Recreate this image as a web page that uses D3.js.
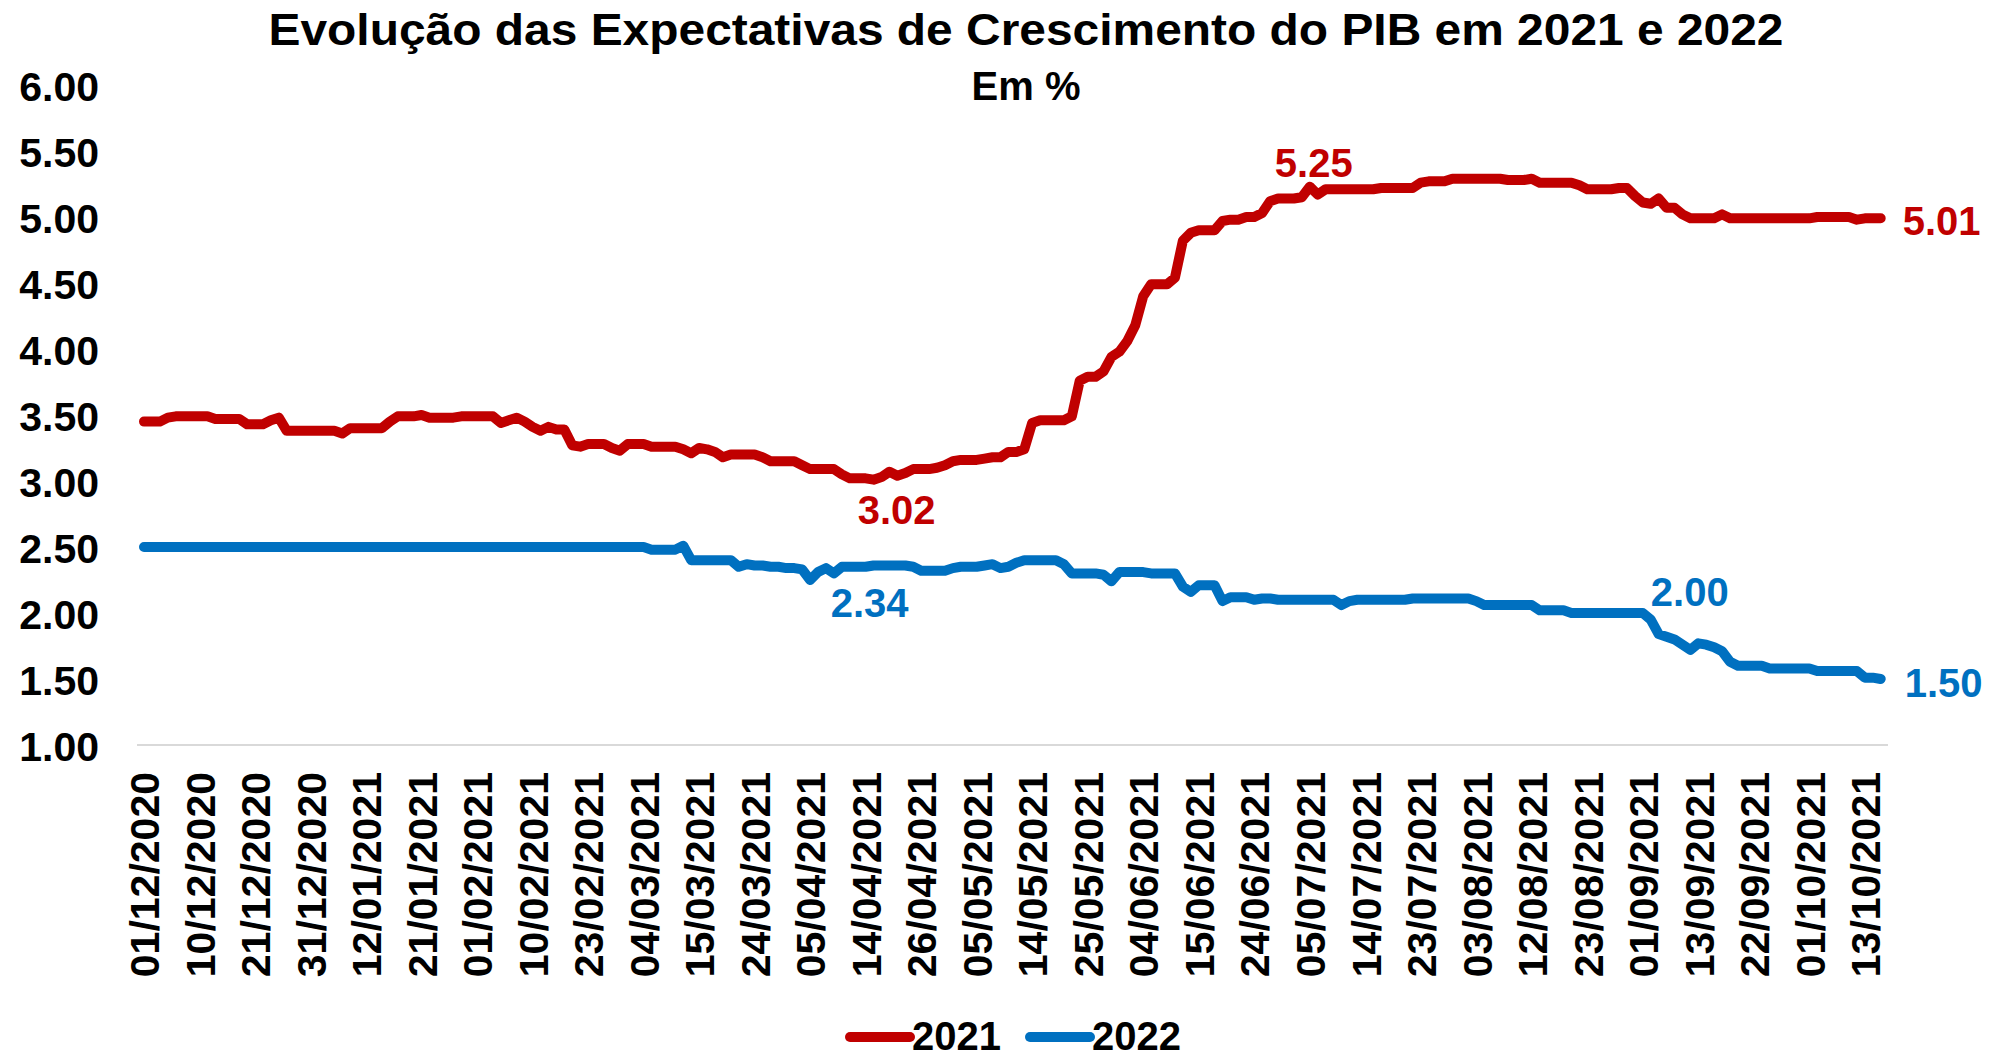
<!DOCTYPE html>
<html>
<head>
<meta charset="utf-8">
<script src="https://cdn.jsdelivr.net/npm/d3@7"></script>
<style>
  body { margin: 0; background: #fff; }
  #canvas { width: 1995px; height: 1058px; }
  text { font-family: "Liberation Sans", Arial, sans-serif; font-weight: bold; }
</style>
</head>
<body>
<div id="canvas"></div>
<script>
// business-day tick labels (every 7th observation)
const tickLabels = ["01/12/2020", "10/12/2020", "21/12/2020", "31/12/2020", "12/01/2021", "21/01/2021",
  "01/02/2021", "10/02/2021", "23/02/2021", "04/03/2021", "15/03/2021", "24/03/2021", "05/04/2021",
  "14/04/2021", "26/04/2021", "05/05/2021", "14/05/2021", "25/05/2021", "04/06/2021", "15/06/2021",
  "24/06/2021", "05/07/2021", "14/07/2021", "23/07/2021", "03/08/2021", "12/08/2021", "23/08/2021",
  "01/09/2021", "13/09/2021", "22/09/2021", "01/10/2021", "13/10/2021"];
const tickStep = 7;

const seriesNames = ["2021", "2022"];

// PIB 2021 expectations, one value per business day
const pib2021 = [
  3.45, 3.45, 3.45, 3.48, 3.49, 3.49, 3.49, 3.49, 3.49, 3.47,
  3.47, 3.47, 3.47, 3.43, 3.43, 3.43, 3.46, 3.48, 3.38, 3.38,
  3.38, 3.38, 3.38, 3.38, 3.38, 3.36, 3.40, 3.40, 3.40, 3.40,
  3.40, 3.45, 3.49, 3.49, 3.49, 3.50, 3.48, 3.48, 3.48, 3.48,
  3.49, 3.49, 3.49, 3.49, 3.49, 3.44, 3.46, 3.48, 3.45, 3.41,
  3.38, 3.41, 3.39, 3.39, 3.27, 3.26, 3.28, 3.28, 3.28, 3.25,
  3.23, 3.28, 3.28, 3.28, 3.26, 3.26, 3.26, 3.26, 3.24, 3.21,
  3.25, 3.24, 3.22, 3.18, 3.20, 3.20, 3.20, 3.20, 3.18, 3.15,
  3.15, 3.15, 3.15, 3.12, 3.09, 3.09, 3.09, 3.09, 3.05, 3.02,
  3.02, 3.02, 3.01, 3.03, 3.07, 3.04, 3.06, 3.09, 3.09, 3.09,
  3.10, 3.12, 3.15, 3.16, 3.16, 3.16, 3.17, 3.18, 3.18, 3.22,
  3.22, 3.24, 3.44, 3.46, 3.46, 3.46, 3.46, 3.49, 3.76, 3.79,
  3.79, 3.83, 3.94, 3.98, 4.06, 4.18, 4.40, 4.49, 4.49, 4.49,
  4.54, 4.82, 4.88, 4.90, 4.90, 4.90, 4.97, 4.98, 4.98, 5.00,
  5.00, 5.03, 5.12, 5.14, 5.14, 5.14, 5.15, 5.23, 5.17, 5.21,
  5.21, 5.21, 5.21, 5.21, 5.21, 5.21, 5.22, 5.22, 5.22, 5.22,
  5.22, 5.26, 5.27, 5.27, 5.27, 5.29, 5.29, 5.29, 5.29, 5.29,
  5.29, 5.29, 5.28, 5.28, 5.28, 5.29, 5.26, 5.26, 5.26, 5.26,
  5.26, 5.24, 5.21, 5.21, 5.21, 5.21, 5.22, 5.22, 5.16, 5.11,
  5.10, 5.14, 5.07, 5.07, 5.02, 4.99, 4.99, 4.99, 4.99, 5.02,
  4.99, 4.99, 4.99, 4.99, 4.99, 4.99, 4.99, 4.99, 4.99, 4.99,
  4.99, 5.00, 5.00, 5.00, 5.00, 5.00, 4.98, 4.99, 4.99, 4.99
];

// PIB 2022 expectations
const pib2022 = [
  2.50, 2.50, 2.50, 2.50, 2.50, 2.50, 2.50, 2.50, 2.50, 2.50,
  2.50, 2.50, 2.50, 2.50, 2.50, 2.50, 2.50, 2.50, 2.50, 2.50,
  2.50, 2.50, 2.50, 2.50, 2.50, 2.50, 2.50, 2.50, 2.50, 2.50,
  2.50, 2.50, 2.50, 2.50, 2.50, 2.50, 2.50, 2.50, 2.50, 2.50,
  2.50, 2.50, 2.50, 2.50, 2.50, 2.50, 2.50, 2.50, 2.50, 2.50,
  2.50, 2.50, 2.50, 2.50, 2.50, 2.50, 2.50, 2.50, 2.50, 2.50,
  2.50, 2.50, 2.50, 2.50, 2.48, 2.48, 2.48, 2.48, 2.51, 2.40,
  2.40, 2.40, 2.40, 2.40, 2.40, 2.35, 2.37, 2.36, 2.36, 2.35,
  2.35, 2.34, 2.34, 2.33, 2.25, 2.31, 2.34, 2.30, 2.35, 2.35,
  2.35, 2.35, 2.36, 2.36, 2.36, 2.36, 2.36, 2.35, 2.32, 2.32,
  2.32, 2.32, 2.34, 2.35, 2.35, 2.35, 2.36, 2.37, 2.34, 2.35,
  2.38, 2.40, 2.40, 2.40, 2.40, 2.40, 2.37, 2.30, 2.30, 2.30,
  2.30, 2.29, 2.24, 2.31, 2.31, 2.31, 2.31, 2.30, 2.30, 2.30,
  2.30, 2.20, 2.16, 2.21, 2.21, 2.21, 2.09, 2.12, 2.12, 2.12,
  2.10, 2.11, 2.11, 2.10, 2.10, 2.10, 2.10, 2.10, 2.10, 2.10,
  2.10, 2.06, 2.09, 2.10, 2.10, 2.10, 2.10, 2.10, 2.10, 2.10,
  2.11, 2.11, 2.11, 2.11, 2.11, 2.11, 2.11, 2.11, 2.09, 2.06,
  2.06, 2.06, 2.06, 2.06, 2.06, 2.06, 2.02, 2.02, 2.02, 2.02,
  2.00, 2.00, 2.00, 2.00, 2.00, 2.00, 2.00, 2.00, 2.00, 2.00,
  1.95, 1.84, 1.82, 1.80, 1.76, 1.72, 1.77, 1.76, 1.74, 1.71,
  1.63, 1.60, 1.60, 1.60, 1.60, 1.58, 1.58, 1.58, 1.58, 1.58,
  1.58, 1.56, 1.56, 1.56, 1.56, 1.56, 1.56, 1.51, 1.51, 1.50
];

// annotated points: [series, index, label]
const callouts = [
  ["2021", 147, "5.25"],
  ["2021", 92, "3.02"],
  ["2021", 219, "5.01"],
  ["2022", 91, "2.34"],
  ["2022", 189, "2.00"],
  ["2022", 219, "1.50"]
];

const yTicks = [1, 1.5, 2, 2.5, 3, 3.5, 4, 4.5, 5, 5.5, 6];

const colors = { "2021": "#C00000", "2022": "#0070C0" };
const seriesData = { "2021": pib2021, "2022": pib2022 };

const canvas = document.getElementById('canvas');
const w = parseFloat(getComputedStyle(canvas).width);
const h = parseFloat(getComputedStyle(canvas).height);

let svg = d3.select("#canvas")
            .append("svg")
                .attr("width", w)
                .attr("height", h)
                .attr("viewBox", [0, 0, w, h]);

const n = pib2021.length;
const x = d3.scaleLinear()
    .domain([0, n - 1])
    .range([144, 1880.7]);
const y = d3.scaleLinear()
    .domain([1, 6])
    .range([745, 85]);

// title
svg.append("text")
    .attr("x", 1026).attr("y", 45)
    .attr("text-anchor", "middle")
    .attr("font-size", 45)
    .attr("textLength", 1515)
    .attr("lengthAdjust", "spacingAndGlyphs")
    .text("Evolução das Expectativas de Crescimento do PIB em 2021 e 2022");
svg.append("text")
    .attr("x", 1026).attr("y", 100)
    .attr("text-anchor", "middle")
    .attr("font-size", 40)
    .text("Em %");

// baseline
svg.append("line")
    .attr("x1", 137).attr("x2", 1888)
    .attr("y1", y(1)).attr("y2", y(1))
    .attr("stroke", "#d9d9d9")
    .attr("stroke-width", 2);

// y axis labels
const yAxis = d3.axisLeft(y)
    .tickValues(yTicks)
    .tickFormat(d3.format(".2f"))
    .tickSize(0)
    .tickPadding(0);
const gY = svg.append("g")
    .attr("transform", "translate(99,0)")
    .call(yAxis);
gY.select(".domain").remove();
gY.selectAll("text")
    .attr("font-size", 41)
    .attr("font-family", null)
    .attr("fill", "#000")
    .attr("dy", "0.38em");

// x axis labels
const tickIdx = tickLabels.map((d, i) => i * tickStep);
const xAxis = d3.axisBottom(x)
    .tickValues(tickIdx)
    .tickFormat((d, i) => tickLabels[i])
    .tickSize(0);
const gX = svg.append("g")
    .attr("transform", "translate(0," + y(1) + ")")
    .call(xAxis);
gX.select(".domain").remove();
gX.selectAll("text")
    .attr("font-size", 41)
    .attr("font-family", null)
    .attr("fill", "#000")
    .attr("text-anchor", "end")
    .attr("transform", "rotate(-90)")
    .attr("x", -27)
    .attr("y", 0)
    .attr("dy", "0.36em");

// lines
const line = d3.line()
    .x((d, i) => x(i))
    .y(d => y(d));

seriesNames.forEach(s => {
    svg.append("path")
        .datum(seriesData[s])
        .attr("fill", "none")
        .attr("stroke", colors[s])
        .attr("stroke-width", 10)
        .attr("stroke-linejoin", "round")
        .attr("stroke-linecap", "round")
        .attr("d", line);
});

// data labels
const calloutOffset = {
    "5.25": [4, -10, "middle"],
    "3.02": [23, 44, "middle"],
    "5.01": [22, 17, "start"],
    "2.34": [4, 50, "middle"],
    "2.00": [47, -7, "middle"],
    "1.50": [24, 18, "start"]
};
svg.selectAll("text.callout")
    .data(callouts)
    .enter().append("text")
        .attr("class", "callout")
        .attr("x", d => x(d[1]) + calloutOffset[d[2]][0])
        .attr("y", d => y(seriesData[d[0]][d[1]]) + calloutOffset[d[2]][1])
        .attr("text-anchor", d => calloutOffset[d[2]][2])
        .attr("font-size", 40)
        .attr("fill", d => colors[d[0]])
        .text(d => d[2]);

// legend
const legend = svg.append("g").attr("transform", "translate(850,1037)");
seriesNames.forEach((s, i) => {
    const g = legend.append("g").attr("transform", "translate(" + (i * 180) + ",0)");
    g.append("line")
        .attr("x1", 0).attr("x2", 60)
        .attr("y1", 0).attr("y2", 0)
        .attr("stroke", colors[s])
        .attr("stroke-width", 10)
        .attr("stroke-linecap", "round");
    g.append("text")
        .attr("x", 62).attr("y", 13)
        .attr("font-size", 40)
        .text(s);
});
</script>
</body>
</html>
